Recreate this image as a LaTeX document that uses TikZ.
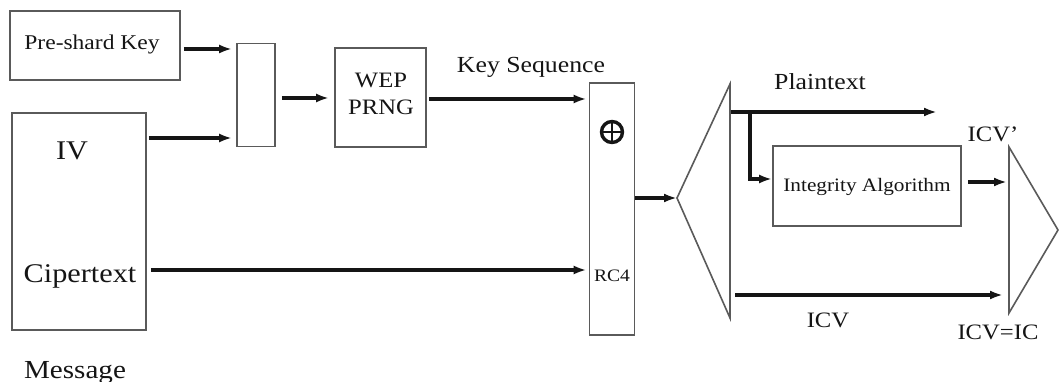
\documentclass[tikz,border=0pt]{standalone}
\usepackage{fontspec}
\setmainfont{Liberation Serif}[FakeStretch=1.12]
\usetikzlibrary{arrows.meta}
\definecolor{boxgray}{HTML}{5A5A5A}
\definecolor{ink}{HTML}{151515}
\tikzset{
  blk/.style={draw=boxgray, line width=1.8pt, fill=white, inner sep=0pt},
  arr/.style={draw=ink, line width=3.6pt, -{Latex[length=13pt,width=9pt]}},
  tri/.style={draw=boxgray, line width=1.6pt},
  lbl/.style={text=ink, anchor=base, inner sep=0pt},
}
\newcommand{\fs}[1]{\fontsize{#1}{#1}\selectfont}
\begin{document}
\begin{tikzpicture}[x=1pt,y=-1pt]
\useasboundingbox[fill=white] (0,0) rectangle (1060,382);
% boxes
\node[blk, minimum width=170pt, minimum height=69pt] (psk) at (95,45.5) {};
\node[blk, minimum width=38pt, minimum height=103pt] (mix) at (256,95) {};
\node[blk, minimum width=91pt, minimum height=99pt] (wep) at (380.5,97.5) {};
\node[blk, minimum width=134pt, minimum height=217pt] (msg) at (79,221.5) {};
\node[blk, minimum width=45pt, minimum height=252pt] (rc4) at (612,209) {};
\node[blk, minimum width=188pt, minimum height=80pt] (integ) at (867,186) {};
% xor symbol
\node[draw=ink, circle, line width=3.4pt, minimum size=21pt, inner sep=0pt] (xor) at (612,132) {};
\draw[ink, line width=2.4pt] (xor.north) -- (xor.south) (xor.west) -- (xor.east);
% triangles
\coordinate (dtip) at (677,198);
\coordinate (dtop) at (730,84);
\coordinate (dbot) at (730,318);
\draw[tri] (dtip) -- (dtop) -- (dbot) -- cycle;
\coordinate (ctop) at (1009,147);
\coordinate (cbot) at (1009,313);
\coordinate (ctip) at (1058,230);
\draw[tri] (ctop) -- (ctip) -- (cbot) -- cycle;
% labels
\node[lbl, font=\fs{21}] (tpsk) at (92,50) {Pre-shard Key};
\node[lbl, font=\fs{22}] (twep1) at (381,88) {WEP};
\node[lbl, font=\fs{22}] (twep2) at (381,115) {PRNG};
\node[lbl, font=\fs{23}] (tks) at (531,73) {Key Sequence};
\node[lbl, font=\fs{27}] (tiv) at (72,160) {IV};
\node[lbl, font=\fs{27}] (tcip) at (80,282) {Cipertext};
\node[lbl, font=\fs{26}] (tmsg) at (75,378) {Message};
\node[lbl, font=\fs{17.5}] (trc4) at (612,281) {RC4};
\node[lbl, font=\fs{23}] (tpl) at (820,90) {Plaintext};
\node[lbl, font=\fs{19}] (tint) at (867,192) {Integrity Algorithm};
\node[lbl, font=\fs{22}] (ticvp) at (993,142) {ICV’};
\node[lbl, font=\fs{22}] (ticv) at (828,327) {ICV};
\node[lbl, font=\fs{22}] (teq) at (998,339) {ICV=IC};
% connectors
\draw[arr, shorten <=3pt, shorten >=4pt] (psk.east |- 0,49) -- (mix.west |- 0,49);
\draw[arr, shorten <=2pt, shorten >=4pt] (msg.east |- 0,138) -- (mix.west |- 0,138);
\draw[arr, shorten <=6pt, shorten >=5pt] (mix.east |- 0,98) -- (wep.west |- 0,98);
\draw[arr, shorten <=2pt, shorten >=2pt] (wep.east |- 0,99) -- (rc4.west |- 0,99);
\draw[arr, shorten <=4pt, shorten >=2pt] (msg.east |- 0,270) -- (rc4.west |- 0,270);
\draw[arr] (rc4.east |- 0,198) -- (dtip);
\coordinate (pls) at (731,112);
\coordinate (ple) at (937,112);
\coordinate (plb) at (750,112);
\draw[arr] (pls) -- (ple);
\draw[arr] (plb) |- (integ.west |- 0,179);
\draw[arr, shorten <=6pt, shorten >=2pt] (integ.east |- 0,182) -- (ctop |- 0,182);
\coordinate (icvs) at (735,295);
\draw[arr, shorten >=6pt] (icvs) -- (ctop |- 0,295);
\end{tikzpicture}
\end{document}
